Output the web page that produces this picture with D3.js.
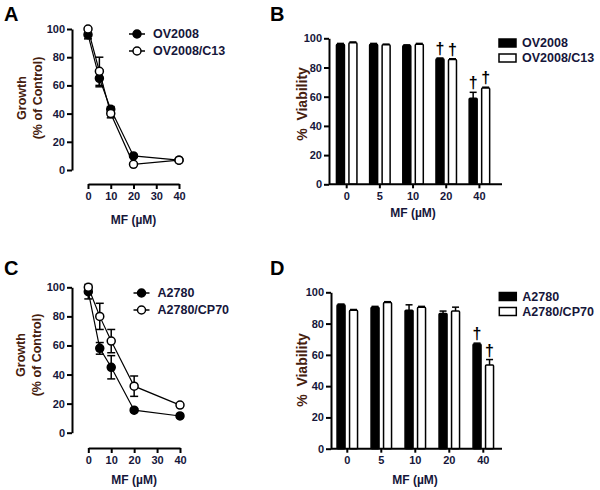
<!DOCTYPE html>
<html><head><meta charset="utf-8">
<script src="https://cdn.jsdelivr.net/npm/d3@7"></script>
<style>
body{margin:0;background:#fff;}
svg{display:block;font-family:"Liberation Sans",Arial,sans-serif;}
</style></head>
<body><svg id="c" width="600" height="490"></svg>
<script>
// ---------- DATA ----------
const doses = [0, 5, 10, 20, 40];
const xTicksLine = [0, 10, 20, 30, 40];
const yTicks = [0, 20, 40, 60, 80, 100];
const barCats = ["0", "5", "10", "20", "40"];

// Panel A
const ov2008Growth = [96, 65, 43, 10, 7];
const ov2008GrowthErr = [3, 6, 2, 1, 0.5];
const c13Growth = [100, 70, 40, 4, 7];
const c13GrowthErr = [1, 10, 3, 0.5, 0.5];

// Panel B
const ov2008Viab = [96, 96, 95, 86, 59];
const ov2008ViabErr = [0.5, 0.5, 0.5, 0.5, 4];
const c13Viab = [97, 95.5, 96, 85.5, 66];
const c13ViabErr = [0.5, 0.5, 0.5, 0.5, 0.5];
const bDagger = [false, false, false, true, true];

// Panel C
const a2780Growth = [97, 58, 45, 15.5, 11.5];
const a2780GrowthErr = [5, 4, 8, 1, 1];
const cp70Growth = [100, 80, 63, 32, 19];
const cp70GrowthErr = [1, 9, 8, 7, 1];

// Panel D
const a2780Viab = [92, 90.5, 88.5, 86.5, 67];
const a2780ViabErr = [0.5, 0.5, 3.5, 1.5, 0.5];
const cp70Viab = [88.5, 93.5, 90.5, 88, 53.5];
const cp70ViabErr = [0.5, 0.5, 0.5, 2.5, 3.5];
const dDagger = [false, false, false, false, true];

// ---------- STYLE ----------
const tickColor = "#16163a";
const titleColor = "#45200e";
const svg = d3.select("#c");

function panelLetter(t, x, y) {
  svg.append("text").attr("x", x).attr("y", y).text(t)
    .attr("font-size", 20).attr("font-weight", "bold").attr("fill", "#000");
}

function styleAxis(g) {
  g.selectAll("path.domain").attr("stroke", "#000").attr("stroke-width", 2);
  g.selectAll(".tick line").attr("stroke", "#000").attr("stroke-width", 2);
  g.selectAll(".tick text").attr("fill", tickColor).attr("font-size", 11)
    .attr("font-weight", "bold").attr("font-family", "Liberation Sans, Arial, sans-serif");
}

function linePanel(o) {
  const g = svg.append("g");
  const x = d3.scaleLinear().domain([0, 40]).range([o.x0, o.x1]);
  const y = d3.scaleLinear().domain([0, 100]).range([o.y0, o.y1]);
  const ya = g.append("g").attr("transform", `translate(${o.ax},0)`)
    .call(d3.axisLeft(y).tickValues(yTicks).tickSize(5).tickSizeOuter(0).tickPadding(2));
  styleAxis(ya);
  const xa = g.append("g").attr("transform", `translate(0,${o.xaY})`)
    .call(d3.axisBottom(x).tickValues(xTicksLine).tickSize(5).tickSizeOuter(0).tickPadding(3));
  styleAxis(xa);
  g.append("text").attr("x", (o.x0 + o.x1) / 2).attr("y", o.xtY).attr("text-anchor", "middle")
    .attr("font-size", 12).attr("font-weight", "bold").attr("fill", tickColor).text("MF (µM)");
  [["Growth", o.tx1], ["(% of Control)", o.tx2]].forEach(([t, tx]) => {
    g.append("text").attr("transform", `translate(${tx},${o.tyC}) rotate(-90)`)
      .attr("text-anchor", "middle").attr("dominant-baseline", "central")
      .attr("font-size", 12.5).attr("font-weight", "bold").attr("fill", titleColor).text(t);
  });
  const series = [
    {v: o.s1, e: o.e1, fill: "#000"},
    {v: o.s2, e: o.e2, fill: "#fff"}
  ];
  const line = d3.line().x((d, i) => x(doses[i])).y(d => y(d));
  series.forEach(s => {
    g.append("path").datum(s.v).attr("d", line).attr("fill", "none")
      .attr("stroke", "#000").attr("stroke-width", 1.2);
  });
  series.forEach(s => {
    s.v.forEach((v, i) => {
      const cx = x(doses[i]), e = s.e[i];
      if (e > 0.6) {
        g.append("line").attr("x1", cx).attr("x2", cx).attr("y1", y(v - e)).attr("y2", y(v + e))
          .attr("stroke", "#000").attr("stroke-width", 1.5);
        [v - e, v + e].forEach(w => g.append("line").attr("x1", cx - 4).attr("x2", cx + 4)
          .attr("y1", y(w)).attr("y2", y(w)).attr("stroke", "#000").attr("stroke-width", 1.5));
      }
    });
  });
  series.forEach(s => {
    g.selectAll(null).data(s.v).join("circle")
      .attr("cx", (d, i) => x(doses[i])).attr("cy", d => y(d)).attr("r", 4)
      .attr("fill", s.fill).attr("stroke", "#000").attr("stroke-width", 1.5);
  });
  o.names.forEach((n, i) => {
    const ly = o.legY + i * 17;
    g.append("line").attr("x1", o.legX - 8).attr("x2", o.legX + 8).attr("y1", ly).attr("y2", ly)
      .attr("stroke", "#000").attr("stroke-width", 1.5);
    g.append("circle").attr("cx", o.legX).attr("cy", ly).attr("r", 4)
      .attr("fill", series[i].fill).attr("stroke", "#000").attr("stroke-width", 1.5);
    g.append("text").attr("x", o.legX + 16).attr("y", ly).attr("dominant-baseline", "central")
      .attr("font-size", 12.5).attr("font-weight", "bold").attr("fill", tickColor).text(n);
  });
}

function barPanel(o) {
  const g = svg.append("g");
  const x0 = d3.scaleBand().domain(barCats).range([o.bx0, o.bx1]);
  const x1 = d3.scaleBand().domain(["a", "b"]).range([-12.5, 12.5]).paddingInner(0.24).paddingOuter(0.12);
  const y = d3.scaleLinear().domain([0, 100]).range([o.y0, o.y1]);
  const series = [
    {k: "a", v: o.s1, e: o.e1, fill: "#000"},
    {k: "b", v: o.s2, e: o.e2, fill: "#fff"}
  ];
  series.forEach(s => {
    s.v.forEach((v, i) => {
      const cx = x0(barCats[i]) + x0.bandwidth() / 2 + x1(s.k);
      const bw = x1.bandwidth();
      const mid = cx + bw / 2;
      g.append("line").attr("x1", mid).attr("x2", mid).attr("y1", y(v)).attr("y2", y(v + s.e[i]))
        .attr("stroke", "#000").attr("stroke-width", 1.5);
      g.append("line").attr("x1", mid - 3.5).attr("x2", mid + 3.5).attr("y1", y(v + s.e[i])).attr("y2", y(v + s.e[i]))
        .attr("stroke", "#000").attr("stroke-width", 1.5);
      g.append("rect").attr("x", cx + 0.75).attr("y", y(v)).attr("width", bw - 1.5)
        .attr("height", y(0) - y(v)).attr("rx", 1)
        .attr("fill", s.fill).attr("stroke", "#000").attr("stroke-width", 1.5);
      if (o.dag[i]) {
        g.append("text").attr("x", mid).attr("y", y(v + s.e[i]) - 4).attr("text-anchor", "middle")
          .attr("font-size", 16).attr("font-weight", "bold").attr("fill", "#000").text("†");
      }
    });
  });
  const ya = g.append("g").attr("transform", `translate(${o.ax},0)`)
    .call(d3.axisLeft(y).tickValues(yTicks).tickSize(5).tickSizeOuter(0).tickPadding(2));
  styleAxis(ya);
  const xa = g.append("g").attr("transform", `translate(0,${o.y0})`)
    .call(d3.axisBottom(x0).tickSize(4).tickSizeOuter(0).tickPadding(4));
  styleAxis(xa);
  xa.select("path.domain").attr("d", `M${o.ax},0H${o.axEnd}`);
  g.append("text").attr("x", o.xtX).attr("y", o.xtY).attr("text-anchor", "middle")
    .attr("font-size", 12).attr("font-weight", "bold").attr("fill", tickColor).text("MF (µM)");
  g.append("text").attr("transform", `translate(${o.tx},${o.tyC}) rotate(-90)`)
    .attr("text-anchor", "middle").attr("dominant-baseline", "central")
    .attr("font-size", 14).attr("font-weight", "bold").attr("fill", titleColor).attr("xml:space", "preserve")
    .text("%  Viability");
  o.names.forEach((n, i) => {
    const ly = o.legY + i * 15;
    g.append("rect").attr("x", o.legX).attr("y", ly - 4).attr("width", 17).attr("height", 8)
      .attr("fill", series[i].fill).attr("stroke", "#000").attr("stroke-width", 1.5);
    g.append("text").attr("x", o.legX + 23).attr("y", ly).attr("dominant-baseline", "central")
      .attr("font-size", 12.5).attr("font-weight", "bold").attr("fill", tickColor).text(n);
  });
}

panelLetter("A", 4, 21);
panelLetter("B", 270, 21);
panelLetter("C", 4, 275);
panelLetter("D", 270, 275);

linePanel({x0: 88, x1: 179, y0: 170, y1: 29, ax: 72, xaY: 184, xtY: 224,
  tx1: 22, tx2: 38, tyC: 98,
  s1: ov2008Growth, e1: ov2008GrowthErr, s2: c13Growth, e2: c13GrowthErr,
  names: ["OV2008", "OV2008/C13"], legX: 137, legY: 34});

linePanel({x0: 88.3, x1: 180, y0: 432.7, y1: 287.3, ax: 72, xaY: 448, xtY: 484,
  tx1: 21, tx2: 37, tyC: 355,
  s1: a2780Growth, e1: a2780GrowthErr, s2: cp70Growth, e2: cp70GrowthErr,
  names: ["A2780", "A2780/CP70"], legX: 141.5, legY: 293});

barPanel({bx0: 330.1, bx1: 496, y0: 184.3, y1: 38.3, ax: 329, axEnd: 502,
  xtX: 413, xtY: 217, tx: 302, tyC: 104,
  s1: ov2008Viab, e1: ov2008ViabErr, s2: c13Viab, e2: c13ViabErr, dag: bDagger,
  names: ["OV2008", "OV2008/C13"], legX: 499, legY: 43});

barPanel({bx0: 330.3, bx1: 500.3, y0: 448.7, y1: 292.3, ax: 331, axEnd: 502,
  xtX: 415, xtY: 484, tx: 302, tyC: 370,
  s1: a2780Viab, e1: a2780ViabErr, s2: cp70Viab, e2: cp70ViabErr, dag: dDagger,
  names: ["A2780", "A2780/CP70"], legX: 499.3, legY: 296.5});
</script></body></html>
